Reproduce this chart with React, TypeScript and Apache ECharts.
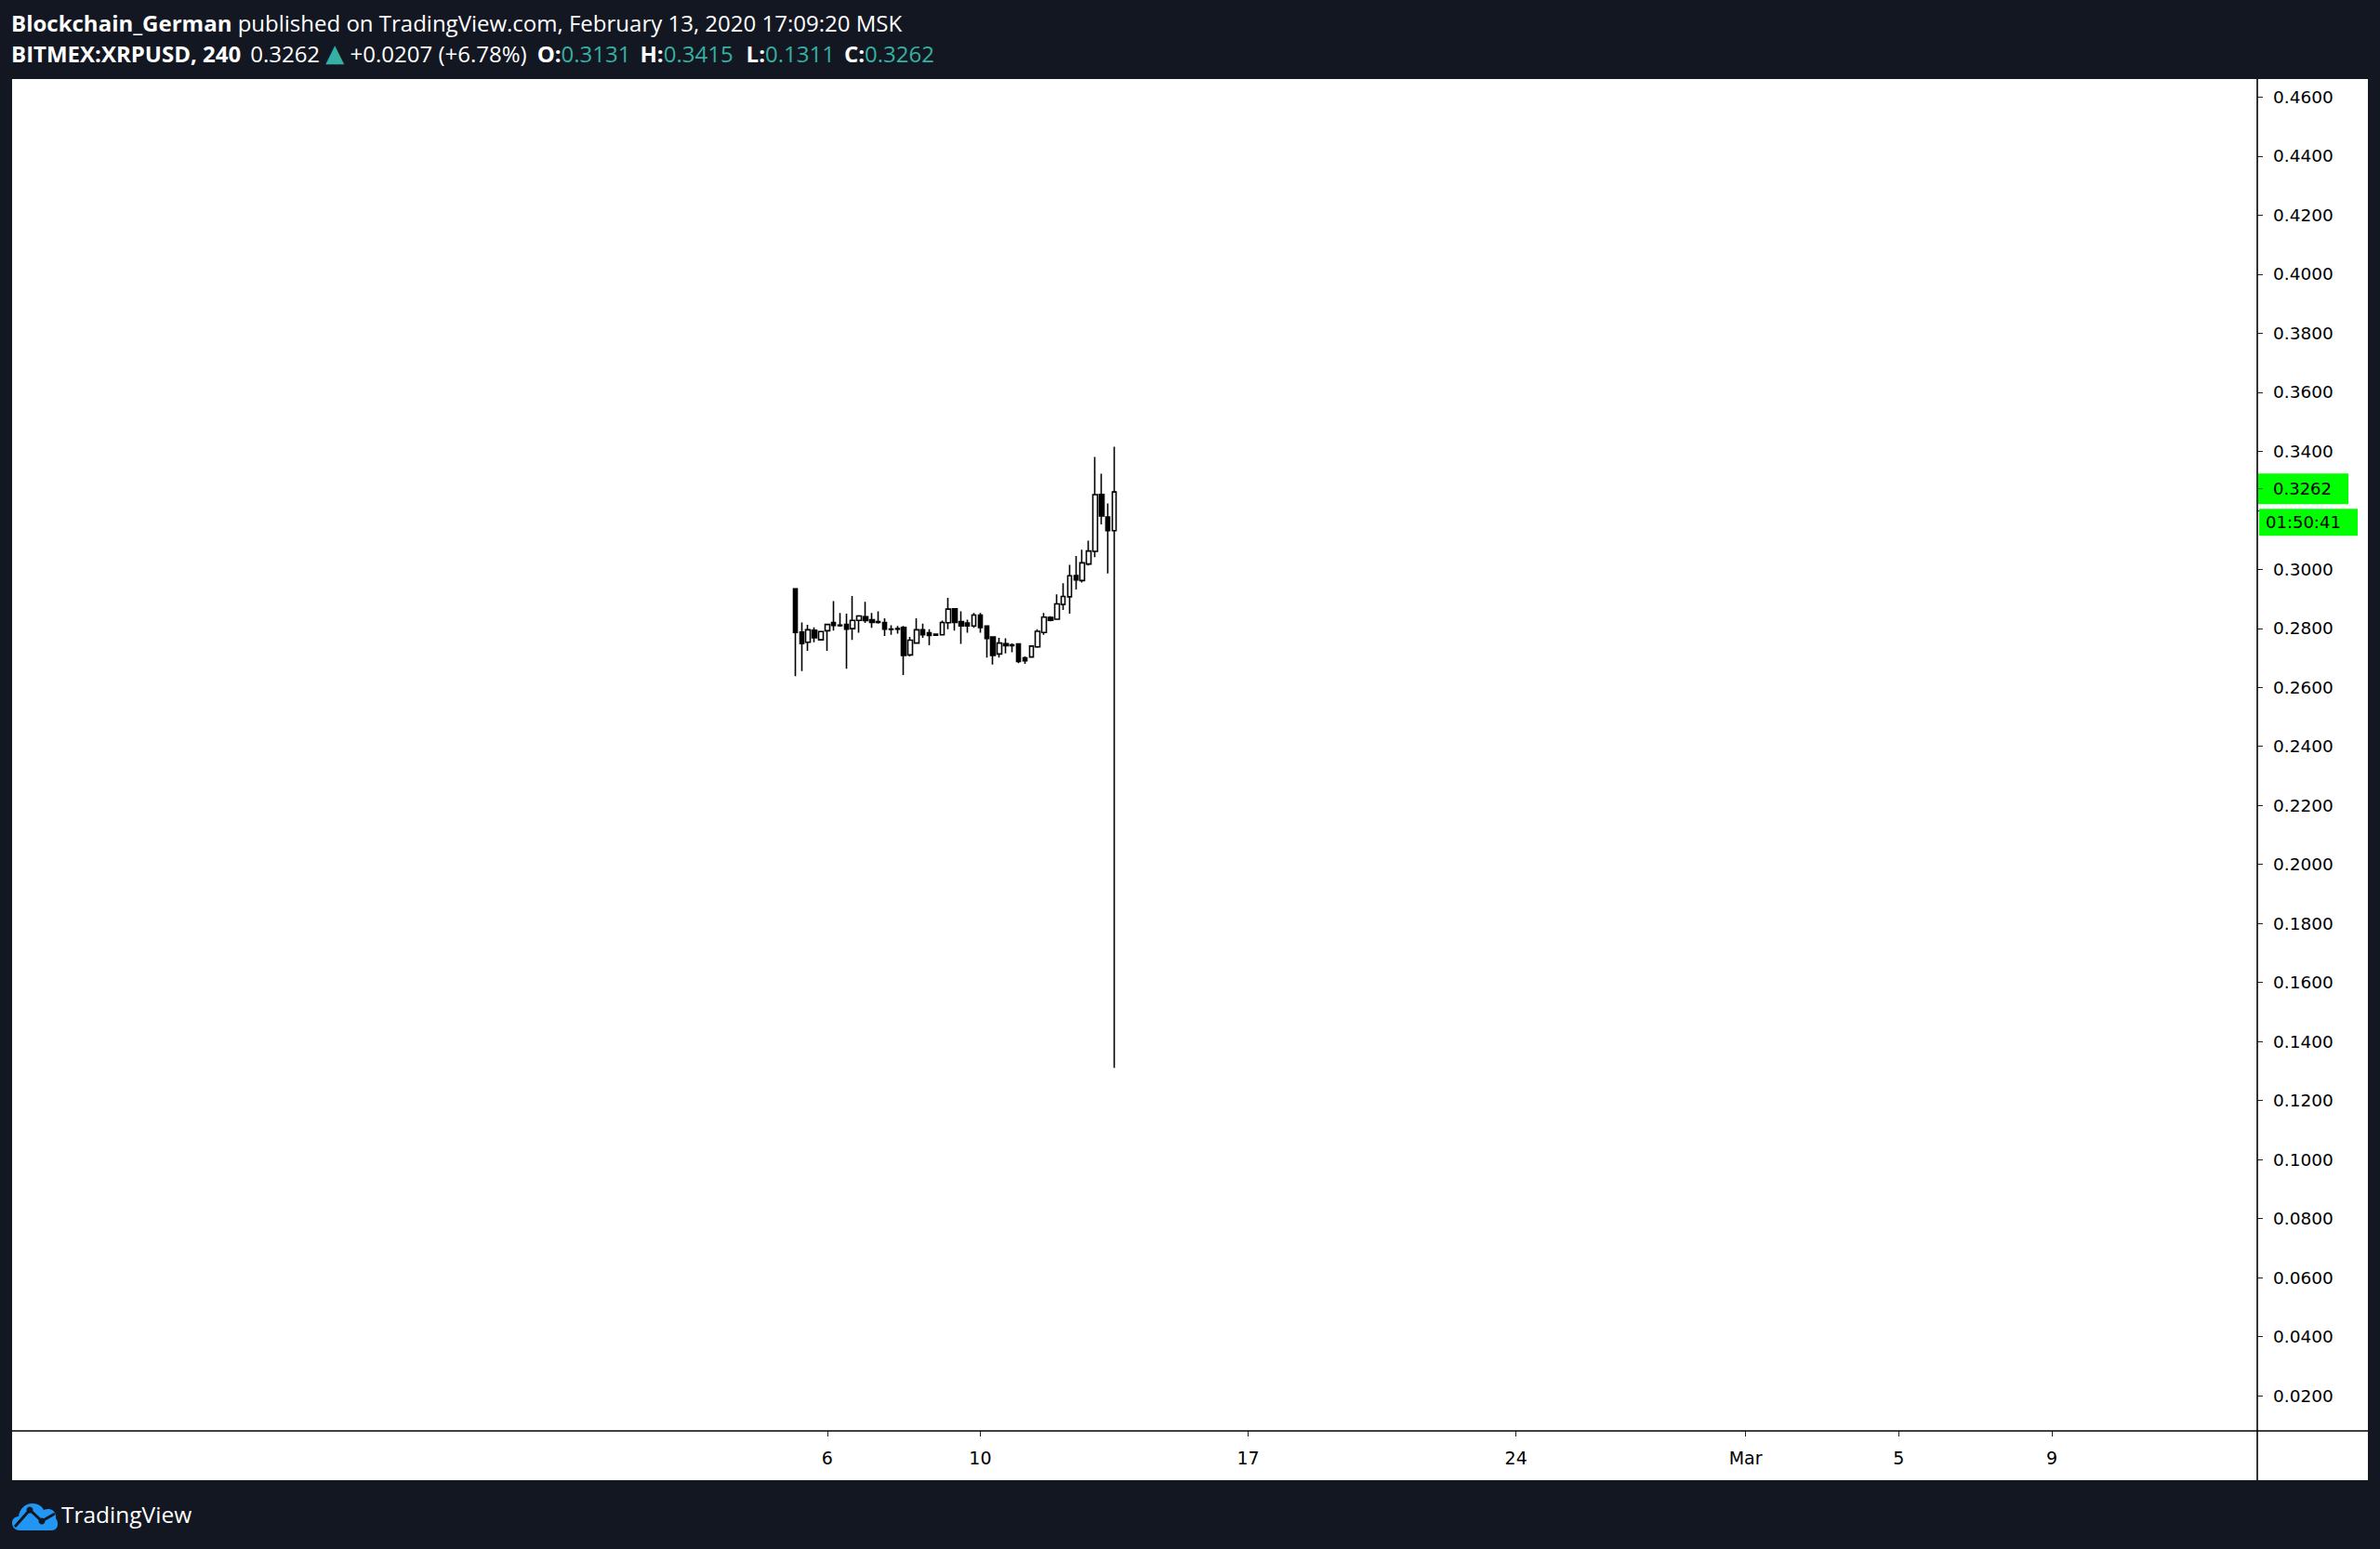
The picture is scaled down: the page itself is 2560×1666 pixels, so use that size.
import React, { useEffect, useRef } from "react";
import * as echarts from "echarts";

// ---------- data (4h bars, UTC open times, 2020) ----------
const barTimes = [
  "02-05 04:00", "02-05 08:00", "02-05 12:00", "02-05 16:00", "02-05 20:00",
  "02-06 00:00", "02-06 04:00", "02-06 08:00", "02-06 12:00", "02-06 16:00", "02-06 20:00",
  "02-07 00:00", "02-07 04:00", "02-07 08:00", "02-07 12:00", "02-07 16:00", "02-07 20:00",
  "02-08 00:00", "02-08 04:00", "02-08 08:00", "02-08 12:00", "02-08 16:00", "02-08 20:00",
  "02-09 00:00", "02-09 04:00", "02-09 08:00", "02-09 12:00", "02-09 16:00", "02-09 20:00",
  "02-10 00:00", "02-10 04:00", "02-10 08:00", "02-10 12:00", "02-10 16:00", "02-10 20:00",
  "02-11 00:00", "02-11 04:00", "02-11 08:00", "02-11 12:00", "02-11 16:00", "02-11 20:00",
  "02-12 00:00", "02-12 04:00", "02-12 08:00", "02-12 12:00", "02-12 16:00", "02-12 20:00",
  "02-13 00:00", "02-13 04:00", "02-13 08:00", "02-13 12:00",
];
const opens = [
  0.2934, 0.2787, 0.2753, 0.2794, 0.2761,
  0.2792, 0.2820, 0.2811, 0.2813, 0.2799, 0.2827,
  0.2839, 0.2829, 0.2823, 0.2820, 0.2798, 0.2797,
  0.2803, 0.2710, 0.2750, 0.2795, 0.2785, 0.2777,
  0.2778, 0.2819, 0.2866, 0.2823, 0.2818, 0.2808,
  0.2845, 0.2808, 0.2771, 0.2713, 0.2748, 0.2744,
  0.2747, 0.2700, 0.2703, 0.2737, 0.2786, 0.2837,
  0.2831, 0.2881, 0.2907, 0.2979, 0.2962, 0.3018,
  0.3061, 0.3254, 0.3177, 0.3131,
];
const closes = [
  0.2786, 0.2748, 0.2795, 0.2768, 0.2789,
  0.2813, 0.2810, 0.2809, 0.2797, 0.2827, 0.2842,
  0.2826, 0.2820, 0.2820, 0.2797, 0.2796, 0.2799,
  0.2708, 0.2760, 0.2795, 0.2778, 0.2776, 0.2780,
  0.2820, 0.2865, 0.2820, 0.2808, 0.2808, 0.2845,
  0.2803, 0.2766, 0.2708, 0.2750, 0.2741, 0.2741,
  0.2688, 0.2690, 0.2740, 0.2790, 0.2838, 0.2827,
  0.2883, 0.2908, 0.2978, 0.2964, 0.3022, 0.3062,
  0.3253, 0.3181, 0.3131, 0.3262,
];
const lows = [
  0.2638, 0.2655, 0.2724, 0.2753, 0.2758,
  0.2724, 0.2792, 0.2806, 0.2663, 0.2761, 0.2785,
  0.2818, 0.2802, 0.2816, 0.2774, 0.2778, 0.2782,
  0.2642, 0.2705, 0.2748, 0.2768, 0.2743, 0.2775,
  0.2776, 0.2797, 0.2792, 0.2747, 0.2785, 0.2802,
  0.2785, 0.2701, 0.2677, 0.2701, 0.2715, 0.2719,
  0.2682, 0.2680, 0.2700, 0.2734, 0.2778, 0.2824,
  0.2829, 0.2862, 0.2850, 0.2932, 0.2955, 0.3013,
  0.3041, 0.3152, 0.2986, 0.1311,
];
const highs = [
  0.2936, 0.2820, 0.2812, 0.2803, 0.2791,
  0.2815, 0.2892, 0.2852, 0.2850, 0.2910, 0.2845,
  0.2890, 0.2852, 0.2858, 0.2834, 0.2810, 0.2808,
  0.2808, 0.2771, 0.2834, 0.2816, 0.2797, 0.2782,
  0.2826, 0.2903, 0.2868, 0.2858, 0.2829, 0.2852,
  0.2852, 0.2810, 0.2773, 0.2768, 0.2766, 0.2749,
  0.2749, 0.2705, 0.2742, 0.2797, 0.2852, 0.2841,
  0.2915, 0.2953, 0.3015, 0.3045, 0.3066, 0.3097,
  0.3381, 0.3324, 0.3223, 0.3415,
];

const xTickDates = ["02-06", "02-10", "02-17", "02-24", "03-01", "03-05", "03-09"];
const xTickLabels = ["6", "10", "17", "24", "Mar", "5", "9"];
const yTickValues = [
  0.02, 0.04, 0.06, 0.08, 0.1, 0.12, 0.14, 0.16, 0.18, 0.2, 0.22, 0.24,
  0.26, 0.28, 0.3, 0.32, 0.34, 0.36, 0.38, 0.4, 0.42, 0.44, 0.46,
];
// tick labels hidden behind the last-price / countdown boxes
const yHiddenLabels = [0.32];

const author = "Blockchain_German";
const publishedText = "published on TradingView.com, February 13, 2020 17:09:20 MSK";
const symbolText = "BITMEX:XRPUSD, 240";
const changeText = "+0.0207 (+6.78%)";
const countdownText = "01:50:41";
const brandText = "TradingView";

// ---------- helpers ----------
function toDay(s: string): number {
  const [md, hm] = s.split(" ");
  const [m, d] = md.split("-").map(Number);
  const h = hm ? Number(hm.split(":")[0]) : 0;
  return (Date.UTC(2020, m - 1, d, h) - Date.UTC(2020, 0, 31)) / 86400000;
}

const xTickVals = xTickDates.map((d) => toDay(d));
const candleData = barTimes.map((t, i) => [toDay(t), opens[i], closes[i], lows[i], highs[i]]);
const last = barTimes.length - 1;

// view window / layout
const X_MIN = -15.302;
const X_MAX = 43.371;
const Y_MIN = 0.00803;
const Y_MAX = 0.46614;
const PL = 13, PR = 2428, PT = 85, PB = 1539, PANEL_R = 2547, PANEL_B = 1592;

const BG = "#131722";
const TEAL = "#35b0a2";
const HEAD_FONT = "'Open Sans', sans-serif";
const AXIS_FONT = "'DejaVu Sans', sans-serif";
const HEAD_SIZE = 24;

echarts.graphic.registerShape(
  "tvcloud",
  echarts.graphic.extendPath(
    "M8 31 C3 31 0 27 0 23 C0 19 3 16 7 16 C8 8 14 2 22 2 C28 2 32 5 34 9 C36 8 38 8 40 8 C45 9 48 13 47 18 C49 20 49 23 49 25 C49 28 46 31 43 31 Z",
    {}
  )
);

function richStyle(fill: string, weight: string, family = HEAD_FONT, size = HEAD_SIZE, padLeft = 0) {
  return {
    fill, color: fill, fontWeight: weight, fontSize: size, fontFamily: family,
    padding: [0, 0, 0, padLeft],
  };
}

function buildGraphics(yc: number) {
  const fmt = (v: number) => v.toFixed(4);
  const line2 =
    `{b|${symbolText}}{p|${fmt(closes[last])} }{tri|▲}{w| ${changeText}}` +
    `{ko|O:}{t|${fmt(opens[last])}}{kh|H:}{t|${fmt(highs[last])}}` +
    `{kl|L:}{t|${fmt(lows[last])}}{kc|C:}{t|${fmt(closes[last])}}`;
  const rich = {
    b: richStyle("#ffffff", "bold"),
    ko: richStyle("#ffffff", "bold", HEAD_FONT, HEAD_SIZE, 11),
    kh: richStyle("#ffffff", "bold", HEAD_FONT, HEAD_SIZE, 10),
    kl: richStyle("#ffffff", "bold", HEAD_FONT, HEAD_SIZE, 14),
    kc: richStyle("#ffffff", "bold", HEAD_FONT, HEAD_SIZE, 10),
    w: richStyle("#ffffff", "normal"),
    p: richStyle("#ffffff", "normal", HEAD_FONT, HEAD_SIZE, 10),
    t: richStyle(TEAL, "normal"),
    tri: richStyle(TEAL, "normal", AXIS_FONT, 26),
  };
  const boxTop = yc - 20;
  return [
    {
      type: "rect", z: -100, silent: true,
      shape: { x: PL, y: PT, width: PANEL_R - PL, height: PANEL_B - PT },
      style: { fill: "#ffffff" },
    },
    {
      type: "line", z: 50, silent: true,
      shape: { x1: PL, y1: PB, x2: PANEL_R, y2: PB },
      style: { stroke: "#000", lineWidth: 1.6 },
    },
    {
      type: "line", z: 50, silent: true,
      shape: { x1: PR, y1: PT, x2: PR, y2: PANEL_B },
      style: { stroke: "#000", lineWidth: 1.6 },
    },
    {
      type: "text", x: 12, y: 24, z: 60,
      style: {
        text: `{b|${author}}{w| ${publishedText}}`,
        rich, verticalAlign: "middle", align: "left",
        fill: "#fff", fontSize: HEAD_SIZE, fontFamily: HEAD_FONT,
      },
    },
    {
      type: "text", x: 12, y: 57, z: 60,
      style: {
        text: line2, rich, verticalAlign: "middle", align: "left",
        fill: "#fff", fontSize: HEAD_SIZE, fontFamily: HEAD_FONT,
      },
    },
    // price label
    {
      type: "rect", z: 70, silent: true,
      shape: { x: PR + 1, y: boxTop, width: 97, height: 33 },
      style: { fill: "#00ff00" },
    },
    {
      type: "line", z: 71, silent: true,
      shape: { x1: PR, y1: boxTop + 16.5, x2: PR + 6, y2: boxTop + 16.5 },
      style: { stroke: "#1a7a1a", lineWidth: 1 },
    },
    {
      type: "text", z: 72, x: PR + 17, y: boxTop + 16.5,
      style: {
        text: fmt(closes[last]), fill: "#000", fontSize: 18, fontFamily: AXIS_FONT,
        verticalAlign: "middle", align: "left",
      },
    },
    // countdown label
    {
      type: "rect", z: 70, silent: true,
      shape: { x: PR + 2, y: boxTop + 38, width: 106, height: 29 },
      style: { fill: "#00ff00" },
    },
    {
      type: "text", z: 72, x: PR + 9, y: boxTop + 38 + 14.5,
      style: {
        text: countdownText, fill: "#000", fontSize: 18, fontFamily: AXIS_FONT,
        verticalAlign: "middle", align: "left",
      },
    },
    // footer logo
    {
      type: "tvcloud", x: 13, y: 1615, z: 60,
      style: { fill: "#2196f3" },
    },
    {
      type: "polyline", x: 13, y: 1615, z: 61,
      shape: { points: [[3, 27], [19, 9], [32, 21], [46, 13]] },
      style: { stroke: BG, lineWidth: 3, fill: null },
    },
    { type: "circle", x: 13, y: 1615, z: 62, shape: { cx: 19, cy: 9, r: 3.5 }, style: { fill: BG } },
    { type: "circle", x: 13, y: 1615, z: 62, shape: { cx: 32, cy: 21, r: 3.5 }, style: { fill: BG } },
    {
      type: "text", x: 66, y: 1628, z: 60,
      style: {
        text: brandText, fill: "#ffffff", fontSize: 24.5, fontFamily: HEAD_FONT,
        verticalAlign: "middle", align: "left",
      },
    },
  ];
}

export default function App() {
  const ref = useRef<HTMLDivElement>(null);
  useEffect(() => {
    document.body.style.margin = "0";
    document.body.style.overflow = "hidden";
    const chart = echarts.init(ref.current!, null, { renderer: "svg", width: 2560, height: 1666 });
    const option: any = {
      animation: false,
      backgroundColor: BG,
      grid: { left: PL, top: PT, width: PR - PL, height: PB - PT, containLabel: false },
      xAxis: {
        type: "value",
        min: X_MIN,
        max: X_MAX,
        splitLine: { show: false },
        axisLine: { show: false, onZero: false },
        axisTick: {
          show: true, customValues: xTickVals, length: 6,
          lineStyle: { color: "#222", width: 1 },
        },
        axisLabel: {
          customValues: xTickVals,
          formatter: (v: number) => {
            const idx = xTickVals.findIndex((t) => Math.abs(t - v) < 1e-6);
            return idx >= 0 ? xTickLabels[idx] : "";
          },
          color: "#000", fontSize: 19, fontFamily: AXIS_FONT, margin: 19,
        },
      },
      yAxis: {
        type: "value",
        position: "right",
        min: Y_MIN,
        max: Y_MAX,
        splitLine: { show: false },
        axisLine: { show: false, onZero: false },
        axisTick: {
          show: true, customValues: yTickValues, length: 6,
          lineStyle: { color: "#222", width: 1 },
        },
        axisLabel: {
          customValues: yTickValues.filter((v) => !yHiddenLabels.includes(v)),
          formatter: (v: number) => v.toFixed(4),
          color: "#000", fontSize: 18.5, fontFamily: AXIS_FONT, margin: 17,
        },
      },
      series: [
        {
          type: "candlestick",
          data: candleData,
          encode: { x: 0, y: [1, 2, 3, 4] },
          barWidth: 5,
          itemStyle: {
            color: "#ffffff",
            color0: "#000000",
            borderColor: "#000000",
            borderColor0: "#000000",
            borderColorDoji: "#000000",
            borderWidth: 1.6,
          },
        },
      ],
    };
    chart.setOption(option);
    const yc = chart.convertToPixel({ yAxisIndex: 0 }, closes[last]) as number;
    chart.setOption({ graphic: buildGraphics(yc) });
    return () => chart.dispose();
  }, []);
  return (
    <div
      ref={ref}
      style={{ position: "absolute", left: 0, top: 0, width: 2560, height: 1666 }}
    />
  );
}
